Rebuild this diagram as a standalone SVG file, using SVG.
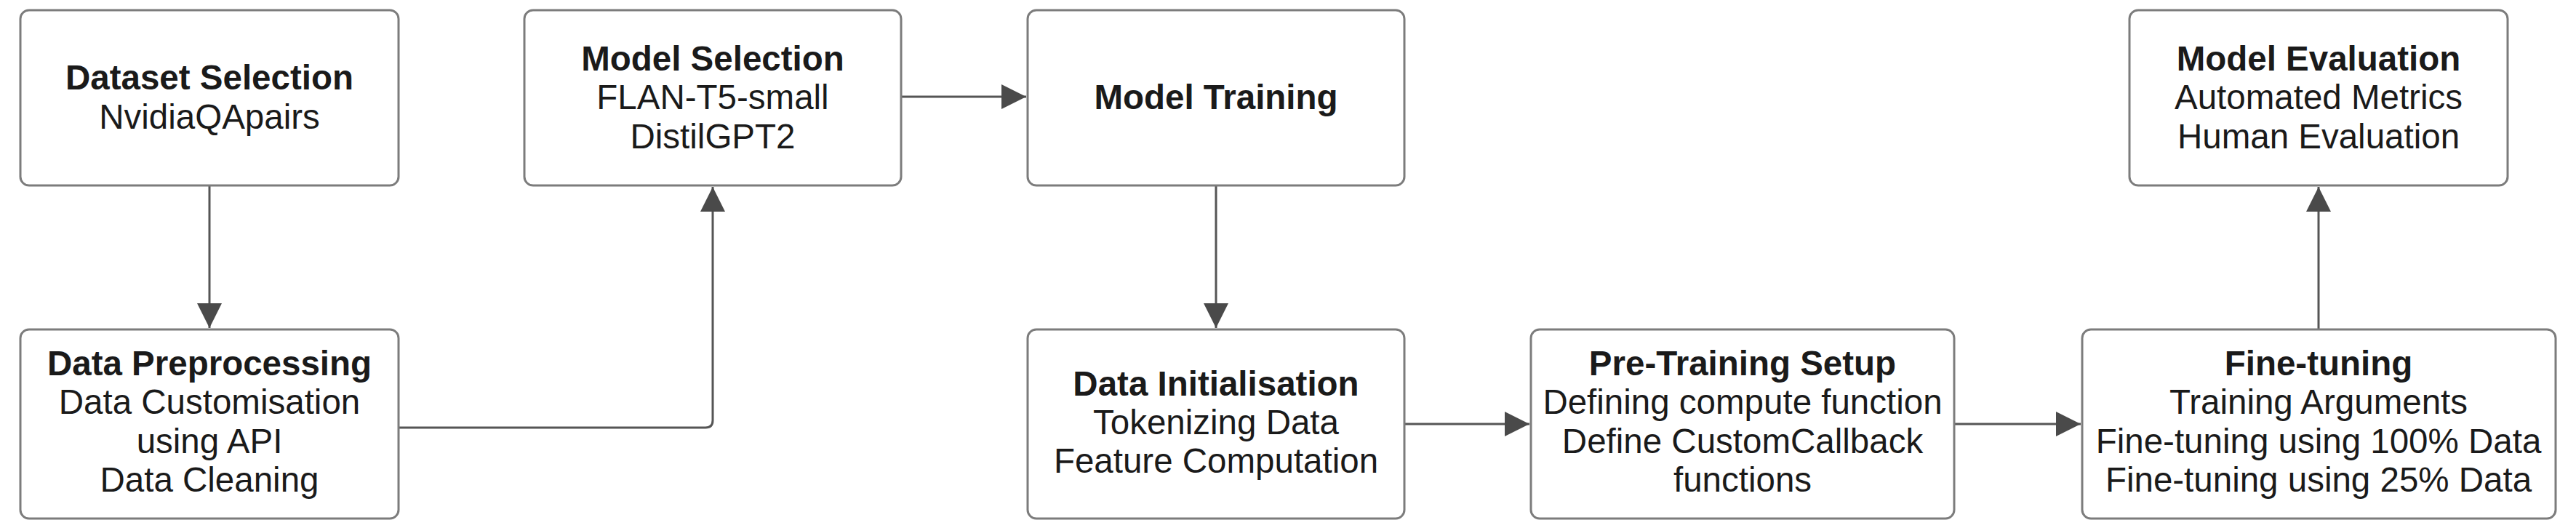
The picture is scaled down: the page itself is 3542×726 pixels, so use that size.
<svg xmlns="http://www.w3.org/2000/svg" width="3542" height="726" viewBox="0 0 3542 726">
<style>
.box{fill:#ffffff;stroke:#7c7c7c;stroke-width:3}
.t{font-family:"Liberation Sans",Arial,sans-serif;font-size:47.5px;fill:#1a1a1a;text-anchor:middle}
.b{font-weight:bold}
.c{fill:none;stroke:#555555;stroke-width:3}
</style>
<defs>
<marker id="ah" markerUnits="userSpaceOnUse" markerWidth="34" markerHeight="34" refX="34" refY="17" orient="auto">
<path d="M0,0 L34,17 L0,34 Z" fill="#4a4a4a"/>
</marker>
</defs>
<rect width="3542" height="726" fill="#ffffff"/>
<g id="connectors">
<path class="c" d="M288 255 V451" marker-end="url(#ah)"/>
<path class="c" d="M548 588 H970 Q980 588 980 578 V257" marker-end="url(#ah)"/>
<path class="c" d="M1239 133 H1411" marker-end="url(#ah)"/>
<path class="c" d="M1672 255 V451" marker-end="url(#ah)"/>
<path class="c" d="M1931 583 H2103" marker-end="url(#ah)"/>
<path class="c" d="M2687 583 H2861" marker-end="url(#ah)"/>
<path class="c" d="M3188 453 V257" marker-end="url(#ah)"/>
</g>
<g id="dataset-selection">
<rect class="box" x="28" y="14" width="520" height="241" rx="12"/>
<text class="t b" x="288" y="123">Dataset Selection</text>
<text class="t" x="288" y="177">NvidiaQApairs</text>
</g>
<g id="model-selection">
<rect class="box" x="721" y="14" width="518" height="241" rx="12"/>
<text class="t b" x="980" y="97">Model Selection</text>
<text class="t" x="980" y="150">FLAN-T5-small</text>
<text class="t" x="980" y="204">DistilGPT2</text>
</g>
<g id="model-training">
<rect class="box" x="1413" y="14" width="518" height="241" rx="12"/>
<text class="t b" x="1672" y="150">Model Training</text>
</g>
<g id="model-evaluation">
<rect class="box" x="2928" y="14" width="520" height="241" rx="12"/>
<text class="t b" x="3188" y="97">Model Evaluation</text>
<text class="t" x="3188" y="150">Automated Metrics</text>
<text class="t" x="3188" y="204">Human Evaluation</text>
</g>
<g id="data-preprocessing">
<rect class="box" x="28" y="453" width="520" height="260" rx="12"/>
<text class="t b" x="288" y="516">Data Preprocessing</text>
<text class="t" x="288" y="569">Data Customisation</text>
<text class="t" x="288" y="623">using API</text>
<text class="t" x="288" y="676">Data Cleaning</text>
</g>
<g id="data-initialisation">
<rect class="box" x="1413" y="453" width="518" height="260" rx="12"/>
<text class="t b" x="1672" y="544">Data Initialisation</text>
<text class="t" x="1672" y="597">Tokenizing Data</text>
<text class="t" x="1672" y="650">Feature Computation</text>
</g>
<g id="pre-training-setup">
<rect class="box" x="2105" y="453" width="582" height="260" rx="12"/>
<text class="t b" x="2396" y="516">Pre-Training Setup</text>
<text class="t" x="2396" y="569">Defining compute function</text>
<text class="t" x="2396" y="623">Define CustomCallback</text>
<text class="t" x="2396" y="676">functions</text>
</g>
<g id="fine-tuning">
<rect class="box" x="2863" y="453" width="651" height="260" rx="12"/>
<text class="t b" x="3188" y="516">Fine-tuning</text>
<text class="t" x="3188" y="569">Training Arguments</text>
<text class="t" x="3188" y="623">Fine-tuning using 100% Data</text>
<text class="t" x="3188" y="676">Fine-tuning using 25% Data</text>
</g>
</svg>
